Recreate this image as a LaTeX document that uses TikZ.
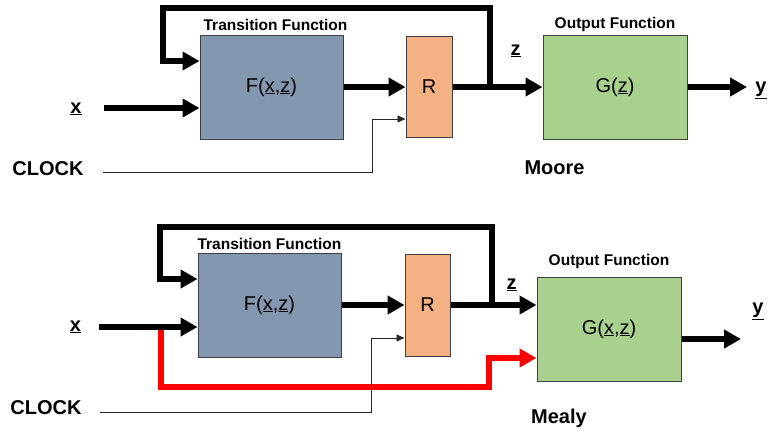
\documentclass[tikz,border=0pt]{standalone}
\usepackage{fontspec}
\setmainfont{Liberation Sans}
\usetikzlibrary{positioning,arrows.meta}
\definecolor{FsmBlue}{HTML}{8497B0}
\definecolor{FsmOrange}{HTML}{F4B183}
\definecolor{FsmGreen}{HTML}{A9D18E}
\definecolor{FsmLine}{HTML}{404040}

\begin{document}
\begin{tikzpicture}[x=1pt,y=-1pt,>={Triangle[length=17pt,width=18pt]},node distance=4pt]
    \tikzstyle{fblock}=[draw=FsmLine,line width=1pt,fill=FsmBlue,
      minimum width=143pt,minimum height=104pt,inner sep=0pt,
      font=\fontsize{20}{24}\selectfont]
    \tikzstyle{rblock}=[fblock,fill=FsmOrange,minimum width=46pt,minimum height=101pt]
    \tikzstyle{gblock}=[fblock,fill=FsmGreen,minimum width=144pt]
    \tikzstyle{caption}=[inner sep=0pt,font=\fontsize{15.5}{18}\selectfont\bfseries]
    \tikzstyle{sig}=[inner sep=0pt,font=\fontsize{20}{24}\selectfont\bfseries]
    \tikzstyle{bus}=[->,line width=6pt]
    \tikzstyle{clk}=[-{Triangle[length=8pt,width=7pt]},line width=0.9pt,color=black!85]
    \useasboundingbox (0,0) rectangle (769,432);

    % Moore machine
    \node[fblock] (F1) at (271.5,87) {F(\underline{x},\underline{z})};
    \node[rblock] (R1) at (429,87) {R};
    \node[gblock] (G1) at (615,87) {G(\underline{z})};
    \node[caption,above=4pt of F1,xshift=4pt] (tf1) {Transition Function};
    \node[caption,above=3pt of G1] (of1) {Output Function};
    \node[sig] (x1) at (76,109) {\underline{x}};
    \node[sig] (z1) at (515.5,51) {\underline{z}};
    \node[sig] (y1) at (761,90) {\underline{y}};
    \node[sig] (clock1) at (48,169) {CLOCK};
    \node[sig] (moore) at (554.5,168) {Moore};
    \coordinate (xin1) at (104,108);
    \coordinate (fin1) at ([yshift=-21pt]F1.west);
    \coordinate (fb1) at ([yshift=26pt]F1.west);
    \coordinate (j1) at (490,87);
    \coordinate (top1) at (163,8);
    \coordinate (c1) at (103,172);
    \coordinate (cin1) at ([yshift=-32pt]R1.west);
    \coordinate (yout1) at (747,87);
    \draw[bus] (xin1) -- (fin1);
    \draw[bus] (F1) -- (R1);
    \draw[bus] (R1) -- (G1);
    \draw[bus] (j1) |- (top1) |- (fb1);
    \draw[bus] (G1) -- (yout1);
    \draw[clk] (c1) -| ([xshift=-33pt]cin1) -- (cin1);

    % Mealy machine
    \node[fblock] (F2) at (269.5,305) {F(\underline{x},\underline{z})};
    \node[rblock,minimum width=45pt,minimum height=102pt] (R2) at (427.5,305) {R};
    \node[gblock] (G2) at (609,329) {G(\underline{x},\underline{z})};
    \node[caption,above=3pt of F2] (tf2) {Transition Function};
    \node[caption,above=8pt of G2] (of2) {Output Function};
    \node[sig] (x2) at (75.5,327) {\underline{x}};
    \node[sig] (z2) at (511.5,285) {\underline{z}};
    \node[sig] (y2) at (758,311) {\underline{y}};
    \node[sig] (clock2) at (46,408) {CLOCK};
    \node[sig] (mealy) at (559,418) {Mealy};
    \coordinate (xin2) at (99,327);
    \coordinate (fin2) at ([yshift=-22pt]F2.west);
    \coordinate (fb2) at ([yshift=26pt]F2.west);
    \coordinate (j2) at (492,305);
    \coordinate (top2) at (160,227);
    \coordinate (gz2) at ([yshift=24pt]G2.west);
    \coordinate (gx2) at ([yshift=-29pt]G2.west);
    \coordinate (tap2) at (160.5,327);
    \coordinate (low2) at (489,387);
    \coordinate (c2) at (100,412);
    \coordinate (cin2) at ([yshift=-33pt]R2.west);
    \coordinate (yout2) at (741,339);
    \draw[bus,red] (tap2) |- (low2) |- (gx2);
    \draw[bus] (xin2) -- (fin2);
    \draw[bus] (F2) -- (R2);
    \draw[bus] (R2.east) -- (gz2);
    \draw[bus] (j2) |- (top2) |- (fb2);
    \draw[bus] ([yshift=-10pt]G2.east) -- (yout2);
    \draw[clk] (c2) -| ([xshift=-33pt]cin2) -- (cin2);
  \end{tikzpicture}
\end{document}
